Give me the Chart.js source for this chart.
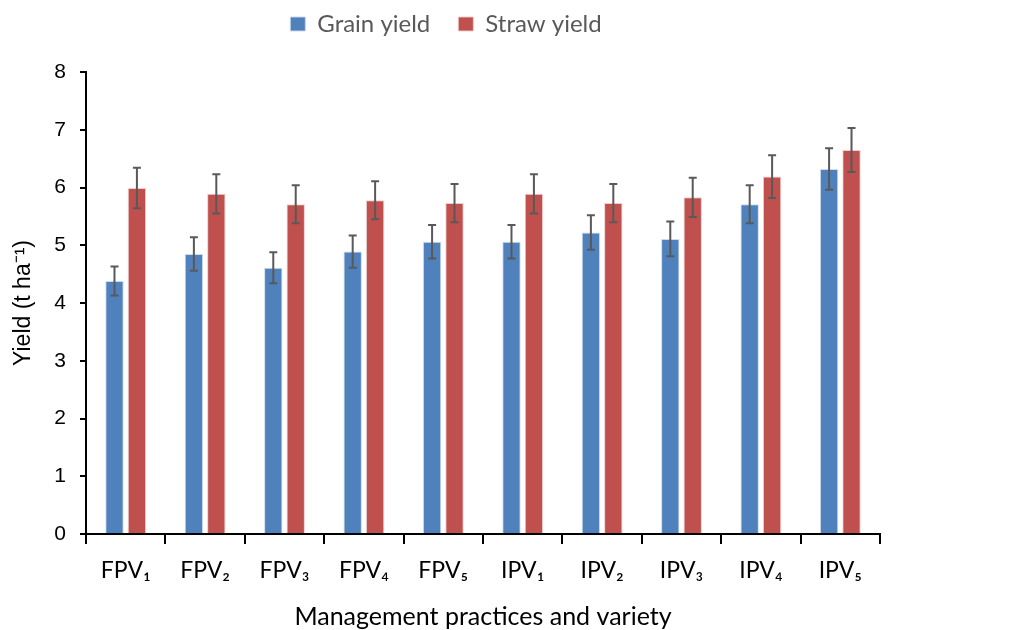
<!DOCTYPE html>
<html>
<head>
<meta charset="utf-8">
<script src="https://cdn.jsdelivr.net/npm/chart.js@4.4.1/dist/chart.umd.min.js"></script>
<style>
  html, body { margin: 0; padding: 0; background: #fff; }
  #wrap { width: 1032px; height: 630px; position: relative; }
</style>
</head>
<body>
<div id="wrap"><canvas id="yieldChart"></canvas></div>
<script>
// Data
const categories = ['FPV\u2081', 'FPV\u2082', 'FPV\u2083', 'FPV\u2084', 'FPV\u2085',
                    'IPV\u2081', 'IPV\u2082', 'IPV\u2083', 'IPV\u2084', 'IPV\u2085'];
const grainYield = [4.38, 4.85, 4.61, 4.89, 5.06, 5.06, 5.22, 5.11, 5.71, 6.32];
const grainErr   = [0.25, 0.29, 0.27, 0.28, 0.29, 0.29, 0.30, 0.30, 0.33, 0.36];
const strawYield = [5.99, 5.89, 5.71, 5.78, 5.73, 5.89, 5.73, 5.83, 6.19, 6.65];
const strawErr   = [0.35, 0.34, 0.33, 0.33, 0.33, 0.34, 0.33, 0.34, 0.37, 0.38];
const yTicks = [0, 1, 2, 3, 4, 5, 6, 7, 8];

// Error bars drawn from the y scale
const errorBars = {
    id: 'errorBars',
    afterDatasetsDraw(chart) {
        const ctx = chart.ctx;
        const y = chart.scales.y;
        ctx.save();
        ctx.strokeStyle = '#595959';
        ctx.lineWidth = 2;
        chart.data.datasets.forEach((ds, di) => {
            const meta = chart.getDatasetMeta(di);
            meta.data.forEach((bar, i) => {
                const v = ds.data[i], e = ds.errors[i];
                const top = y.getPixelForValue(v + e);
                const bot = y.getPixelForValue(v - e);
                ctx.beginPath();
                ctx.moveTo(bar.x, top); ctx.lineTo(bar.x, bot);
                ctx.moveTo(bar.x - 4, top); ctx.lineTo(bar.x + 4, top);
                ctx.moveTo(bar.x - 4, bot); ctx.lineTo(bar.x + 4, bot);
                ctx.stroke();
            });
        });
        ctx.restore();
    }
};

// Legend: fixed height, moved to where the figure has it
const legendPlace = {
    id: 'legendPlace',
    beforeLayout(chart) {
        const lg = chart.legend;
        if (lg && !lg._fixed) {
            const fit = lg.fit;
            lg.fit = function () { fit.call(this); this.height = 72; };
            lg._fixed = true;
        }
    },
    afterLayout(chart) {
        const lg = chart.legend;
        const dx = 446 - (lg.left + lg.right) / 2;
        lg.left += dx; lg.right += dx;
        lg.top -= 16; lg.bottom -= 16;
    }
};

const ctx = document.getElementById('yieldChart').getContext('2d');
new Chart(ctx, {
    type: 'bar',
    data: {
        labels: categories,
        datasets: [{
            label: 'Grain yield',
            data: grainYield,
            errors: grainErr,
            backgroundColor: '#4F81BD',
            borderColor: 'rgba(200,215,235,0.9)',
            borderWidth: 1,
            barPercentage: 0.82,
            categoryPercentage: 0.565
        }, {
            label: 'Straw yield',
            data: strawYield,
            errors: strawErr,
            backgroundColor: '#C0504D',
            borderColor: 'rgba(235,200,200,0.9)',
            borderWidth: 1,
            barPercentage: 0.82,
            categoryPercentage: 0.565
        }]
    },
    options: {
        responsive: true,
        maintainAspectRatio: false,
        animation: false,
        layout: { padding: { left: 0, right: 152, top: 0, bottom: 0 } },
        plugins: {
            legend: {
                position: 'top',
                labels: {
                    boxWidth: 15,
                    boxHeight: 14,
                    padding: 28,
                    color: '#595959',
                    font: { family: 'Lato', size: 24 }
                }
            },
            tooltip: { enabled: false }
        },
        scales: {
            x: {
                grid: {
                    offset: true,
                    drawOnChartArea: false,
                    color: '#000',
                    lineWidth: 2,
                    tickLength: 10
                },
                border: { color: '#000', width: 2 },
                ticks: {
                    color: '#000',
                    padding: 13,
                    maxRotation: 0,
                    font: { family: 'Lato', size: 23 }
                },
                title: {
                    display: true,
                    text: 'Management practices and variety',
                    color: '#000',
                    padding: { top: 0, bottom: -2 },
                    font: { family: 'Lato', size: 25 }
                },
                afterFit(scale) { scale.height = 96; }
            },
            y: {
                min: 0,
                max: 8,
                afterBuildTicks(scale) { scale.ticks = yTicks.map(v => ({ value: v })); },
                grid: {
                    drawOnChartArea: false,
                    color: '#000',
                    lineWidth: 2,
                    tickLength: 6
                },
                border: { color: '#000', width: 2 },
                ticks: {
                    color: '#000',
                    padding: 14,
                    font: { family: 'Liberation Sans', size: 21 }
                },
                title: {
                    display: true,
                    text: 'Yield (t ha\u207B\u00B9)',
                    color: '#000',
                    padding: { top: 10, bottom: 0 },
                    font: { family: 'Liberation Sans', size: 23 }
                },
                afterFit(scale) { scale.width = 86; }
            }
        }
    },
    plugins: [errorBars, legendPlace]
});
</script>
</body>
</html>
